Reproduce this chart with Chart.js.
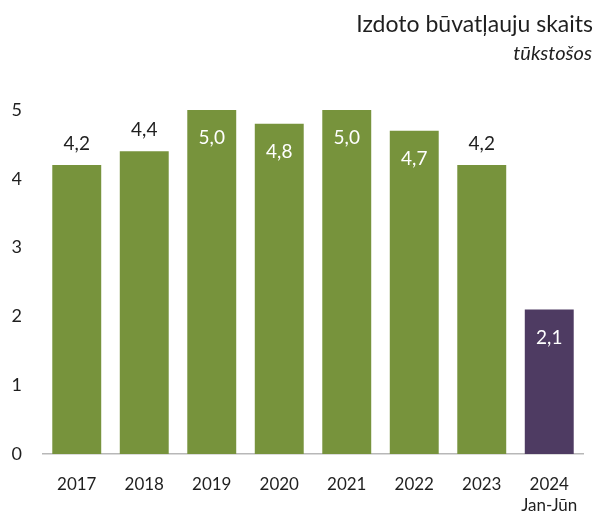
<!DOCTYPE html>
<html>
<head>
<meta charset="utf-8">
<script src="https://cdn.jsdelivr.net/npm/chart.js@4"></script>
<style>
    html, body { margin: 0; padding: 0; background: #fff; }
    canvas { display: block; }
</style>
</head>
<body>
<canvas id="barCanvas" width="601" height="514"></canvas>
<script>
// Données : permis de construire délivrés (en milliers)
const Annees = ["2017", "2018", "2019", "2020", "2021", "2022", "2023", ["2024", "Jan-Jūn"]]
const Permis = [4.2, 4.4, 5.0, 4.8, 5.0, 4.7, 4.2, 2.1]
const TicksY = [0, 1, 2, 3, 4, 5]
const Titre = "Izdoto būvatļauju skaits"
const SousTitre = "tūkstošos"

const Police = "Lato, 'Open Sans', sans-serif"
const CouleurVert = "#77933c"
const CouleurViolet = "#4e3b62"
const CouleurTexte = "#1f1f1f"
// étiquette blanche dans la barre ou noire au-dessus
const LabelDedans = [false, false, true, true, true, true, false, true]

// titre en haut à droite
const pluginTitre = {
    id: "titreCoin",
    afterDraw(chart) {
        const ctx = chart.ctx
        ctx.save()
        ctx.textAlign = "right"
        ctx.textBaseline = "alphabetic"
        ctx.fillStyle = CouleurTexte
        ctx.font = "23px " + Police
        ctx.fillText(Titre, chart.width - 8, 32)
        ctx.font = "italic 20px " + Police
        ctx.fillText(SousTitre, chart.width - 9, 60)
        ctx.restore()
    }
}

// valeurs sur les barres (virgule décimale)
const pluginValeurs = {
    id: "valeursBarres",
    afterDatasetsDraw(chart) {
        const ctx = chart.ctx
        const meta = chart.getDatasetMeta(0)
        ctx.save()
        ctx.font = "19px " + Police
        ctx.textAlign = "center"
        ctx.textBaseline = "middle"
        meta.data.forEach((barre, i) => {
            const txt = Permis[i].toFixed(1).replace(".", ",")
            if (LabelDedans[i]) {
                ctx.fillStyle = "#ffffff"
                ctx.fillText(txt, barre.x, barre.y + 28)
            } else {
                ctx.fillStyle = CouleurTexte
                ctx.fillText(txt, barre.x, barre.y - 21)
            }
        })
        ctx.restore()
    }
}

const barCanvas = document.getElementById("barCanvas")
const barChart = new Chart(barCanvas, {
    type: "bar",
    data: {
        labels: Annees,
        datasets: [{
            data: Permis,
            backgroundColor: Permis.map((v, i) => i === Permis.length - 1 ? CouleurViolet : CouleurVert),
            borderWidth: 0,
            categoryPercentage: 1,
            barPercentage: 0.725
        }]
    },
    options: {
        responsive: false,
        animation: false,
        layout: {
            padding: { top: 110, left: 12, right: 18, bottom: 0 }
        },
        plugins: {
            legend: { display: false },
            tooltip: { enabled: false }
        },
        scales: {
            y: {
                min: 0,
                max: 5,
                afterBuildTicks: (axe) => { axe.ticks = TicksY.map(v => ({ value: v })) },
                afterFit: (axe) => { axe.width = 31 },
                grid: { display: false, drawTicks: false },
                border: { display: false },
                ticks: {
                    color: CouleurTexte,
                    padding: 21,
                    font: { family: Police, size: 18 }
                }
            },
            x: {
                afterFit: (axe) => { axe.height = 60 },
                grid: { display: false, drawTicks: false },
                border: { display: true, color: "#b8b8b8", width: 1.5 },
                ticks: {
                    color: CouleurTexte,
                    padding: 20,
                    maxRotation: 0,
                    font: { family: Police, size: 17, lineHeight: 1.25 }
                }
            }
        }
    },
    plugins: [pluginTitre, pluginValeurs]
})
</script>
</body>
</html>
